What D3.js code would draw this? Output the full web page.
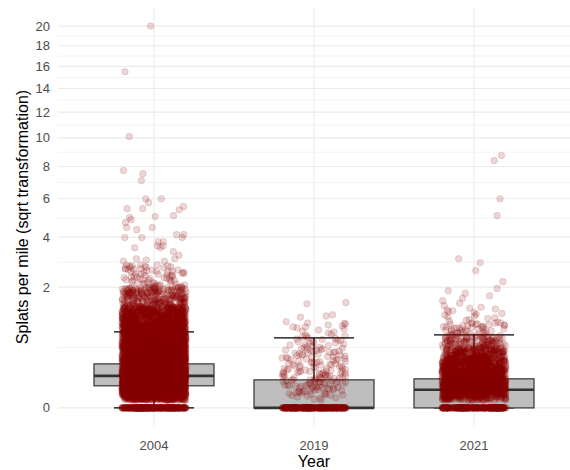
<!DOCTYPE html>
<html lang="en">
<head>
    <meta charset="UTF-8">
    <title>Splats per mile by year</title>
    <script src="https://cdnjs.cloudflare.com/ajax/libs/d3/7.8.5/d3.min.js"></script>
    <style>
        * {
            margin: 0;
            padding: 0;
        }

        body {
            background-color: #ffffff;
            font-family: 'Liberation Sans', Arial, sans-serif;
        }

        .tick-label {
            font-size: 13px;
            fill: #4d4d4d;
        }

        .axis-title {
            font-size: 16px;
            fill: #000000;
        }
    </style>
</head>
<body>
    <div id="chart"></div>

    <script>
        // categories and axis ticks
        const years = ["2004", "2019", "2021"];
        const yTicks = [0, 2, 4, 6, 8, 10, 12, 14, 16, 18, 20];

        // box statistics (splats per mile)
        const lowerWhisker = [0, 0, 0];
        const q1 = [0.067, 0, 0];
        const medians = [0.141, 0, 0.045];
        const q3 = [0.266, 0.108, 0.116];
        const upperWhisker = [0.795, 0.674, 0.733];

        // segments with zero splats
        const zeroCounts = [300, 260, 260];

        // dense part of each cloud: counts of segments per value bin
        const binEdges = [0.008, 0.02, 0.05, 0.1, 0.2, 0.35, 0.5, 0.7, 1.0, 1.4, 2.0, 2.8];
        const counts2004 = [220, 480, 680, 880, 820, 640, 600, 600, 480, 240, 65];
        const counts2019 = [6, 20, 30, 40, 34, 26, 20, 14, 0, 0, 0];
        const counts2021 = [110, 280, 440, 520, 380, 190, 100, 48, 18, 8, 2];

        // single segments in the upper tails
        const sparse2004 = [20.0, 15.5, 10.1, 7.73, 7.53, 7.09, 6.0, 6.0, 5.78, 5.56, 5.45, 5.45,
            5.39, 5.07, 5.02, 4.97, 4.86, 4.71, 4.46, 4.46, 4.36, 4.12, 4.12, 3.98, 3.98, 3.98,
            3.79, 3.79, 3.6, 3.6, 3.52, 3.52, 3.35, 3.2, 3.05, 3.05, 3.0, 2.95, 2.95, 2.81, 2.81];
        const sparse2019 = [1.52, 1.49, 1.19, 1.16, 1.13, 1.02, 0.98, 0.9];
        const sparse2021 = [8.74, 8.39, 6.0, 5.07, 3.05, 2.89];

        const width = 570;
        const height = 470;
        const panel = { left: 58, right: 570, top: 7, bottom: 427 };

        // fixed scatter offset in [0, 1) for the horizontal jitter
        function scatter(n) {
            n = (n ^ 61) ^ (n >>> 16);
            n = n + (n << 3);
            n = n ^ (n >>> 4);
            n = Math.imul(n, 0x27d4eb2d);
            n = n ^ (n >>> 15);
            return (n >>> 0) / 4294967296;
        }

        // build the point list per year
        const binCounts = [counts2004, counts2019, counts2021];
        const sparseValues = [sparse2004, sparse2019, sparse2021];
        const points = [];
        years.forEach((year, yi) => {
            let k = yi * 100000;
            d3.range(zeroCounts[yi]).forEach(() => {
                points.push({ year, value: 0, k: k++ });
            });
            binCounts[yi].forEach((n, bi) => {
                const lo = Math.sqrt(binEdges[bi]);
                const hi = Math.sqrt(binEdges[bi + 1]);
                d3.range(n).forEach(j => {
                    const s = lo + (hi - lo) * ((j + 0.5) / n);
                    points.push({ year, value: s * s, k: k++ });
                });
            });
            sparseValues[yi].forEach(v => {
                points.push({ year, value: v, k: k++ });
            });
        });

        // y scale: sqrt, expanded by 5% of the transformed range like ggplot
        const maxVal = d3.max(points, d => d.value);
        const sMax = Math.sqrt(maxVal);
        const pad = 0.05 * sMax;
        const pxPerUnit = (panel.bottom - panel.top) / (sMax + 2 * pad);
        const y = d3.scaleSqrt()
            .domain([0, maxVal])
            .range([panel.bottom - pad * pxPerUnit, panel.top + pad * pxPerUnit]);

        const x = d3.scalePoint()
            .domain(years)
            .range([panel.left, panel.right])
            .padding(0.6);
        const step = x.step();

        const svg = d3.select("#chart")
            .append("svg")
            .attr("width", width)
            .attr("height", height);

        // grid
        const minorTicks = d3.pairs(yTicks).map(([a, b]) => Math.pow((Math.sqrt(a) + Math.sqrt(b)) / 2, 2));
        const grid = svg.append("g");
        grid.selectAll("line.minor")
            .data(minorTicks)
            .enter()
            .append("line")
            .attr("class", "minor")
            .attr("x1", panel.left).attr("x2", panel.right)
            .attr("y1", d => y(d)).attr("y2", d => y(d))
            .attr("stroke", "#ebebeb")
            .attr("stroke-width", 0.6);
        grid.selectAll("line.major")
            .data(yTicks)
            .enter()
            .append("line")
            .attr("class", "major")
            .attr("x1", panel.left).attr("x2", panel.right)
            .attr("y1", d => y(d)).attr("y2", d => y(d))
            .attr("stroke", "#ebebeb")
            .attr("stroke-width", 1.1);
        grid.selectAll("line.vmajor")
            .data(years)
            .enter()
            .append("line")
            .attr("class", "vmajor")
            .attr("x1", d => x(d)).attr("x2", d => x(d))
            .attr("y1", panel.top).attr("y2", panel.bottom)
            .attr("stroke", "#ebebeb")
            .attr("stroke-width", 1.1);

        // error bars (whiskers with caps)
        const bars = svg.append("g")
            .attr("stroke", "#000000")
            .attr("stroke-width", 1.3);
        years.forEach((year, i) => {
            const cx = x(year);
            bars.append("line")
                .attr("x1", cx).attr("x2", cx)
                .attr("y1", y(lowerWhisker[i])).attr("y2", y(upperWhisker[i]));
            [lowerWhisker[i], upperWhisker[i]].forEach(v => {
                bars.append("line")
                    .attr("x1", cx - step * 0.25).attr("x2", cx + step * 0.25)
                    .attr("y1", y(v)).attr("y2", y(v));
            });
        });

        // boxes
        const boxes = svg.append("g");
        years.forEach((year, i) => {
            const cx = x(year);
            boxes.append("rect")
                .attr("x", cx - step * 0.375)
                .attr("width", step * 0.75)
                .attr("y", y(q3[i]))
                .attr("height", y(q1[i]) - y(q3[i]))
                .attr("fill", "#bebebe")
                .attr("stroke", "#333333")
                .attr("stroke-width", 1.2);
            boxes.append("line")
                .attr("x1", cx - step * 0.375).attr("x2", cx + step * 0.375)
                .attr("y1", y(medians[i])).attr("y2", y(medians[i]))
                .attr("stroke", "#333333")
                .attr("stroke-width", 2.6);
        });

        // jittered points (horizontal jitter only)
        const jitter = step * 0.2;
        svg.append("g")
            .selectAll("circle")
            .data(points)
            .enter()
            .append("circle")
            .attr("cx", d => x(d.year) + (scatter(d.k + 7) * 2 - 1) * jitter)
            .attr("cy", d => y(d.value))
            .attr("r", 3.3)
            .attr("fill", "#8B0000")
            .attr("fill-opacity", 0.16)
            .attr("stroke", "#8B0000")
            .attr("stroke-opacity", 0.16)
            .attr("stroke-width", 0.8);

        // axis labels
        svg.append("g")
            .selectAll("text")
            .data(yTicks)
            .enter()
            .append("text")
            .attr("class", "tick-label")
            .attr("x", panel.left - 8)
            .attr("y", d => y(d))
            .attr("dy", "0.35em")
            .attr("text-anchor", "end")
            .text(d => d);

        svg.append("g")
            .selectAll("text")
            .data(years)
            .enter()
            .append("text")
            .attr("class", "tick-label")
            .attr("x", d => x(d))
            .attr("y", panel.bottom + 22.5)
            .attr("text-anchor", "middle")
            .text(d => d);

        svg.append("text")
            .attr("class", "axis-title")
            .attr("x", (panel.left + panel.right) / 2)
            .attr("y", 467)
            .attr("text-anchor", "middle")
            .text("Year");

        svg.append("text")
            .attr("class", "axis-title")
            .attr("transform", `translate(28,${(panel.top + panel.bottom) / 2}) rotate(-90)`)
            .attr("text-anchor", "middle")
            .text("Splats per mile (sqrt transformation)");
    </script>
</body>
</html>
